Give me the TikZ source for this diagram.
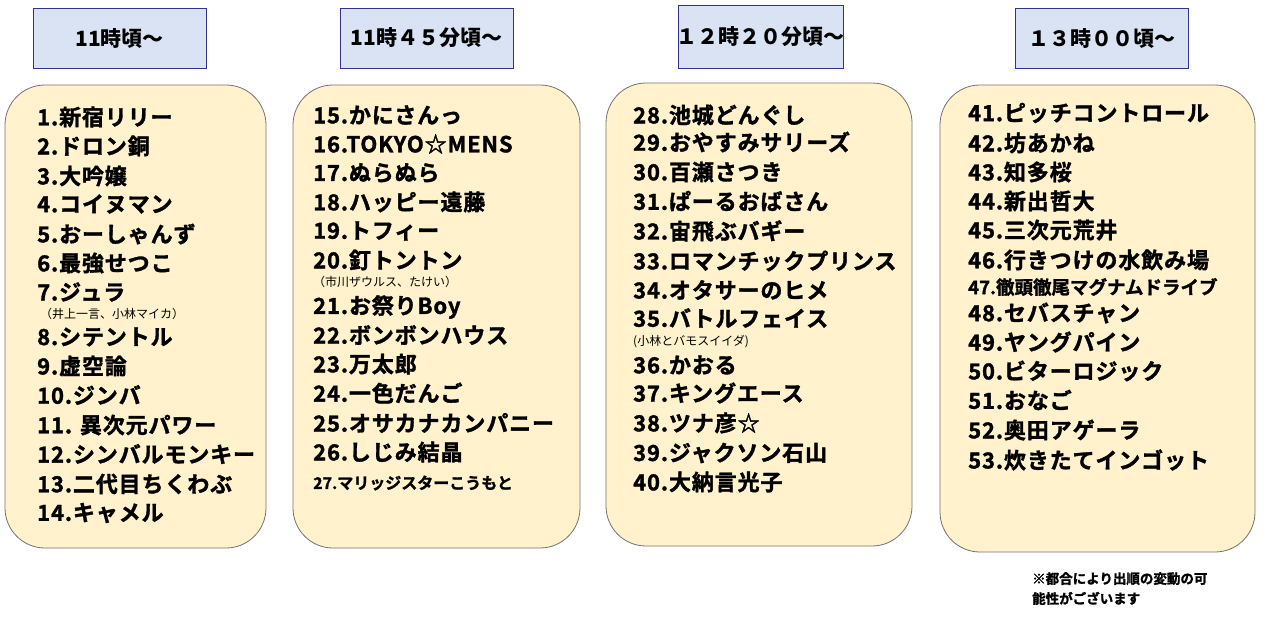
\documentclass[tikz,border=0pt]{standalone}
\usepackage{fontspec}
\setmainfont{Noto Sans CJK JP}[BoldFont={Noto Sans CJK JP Bold},BoldFeatures={FakeBold=1.5}]
\begin{document}
\begin{tikzpicture}[x=1pt,y=-1pt,
 hdr/.style={draw=black!40!blue!60!gray,fill={rgb,255:red,218;green,227;blue,243},line width=0.8pt},
 grp/.style={draw=black!55,fill={rgb,255:red,255;green,242;blue,204},rounded corners=40pt,line width=0.8pt},
 itm/.style={anchor=west,inner sep=0pt,font=\bfseries\fontsize{22}{24}\selectfont\addfontfeatures{LetterSpace=4}},
 sm/.style={anchor=west,inner sep=0pt,font=\fontsize{12}{13}\selectfont},
 ht/.style={font=\bfseries\itshape\fontsize{21}{22}\selectfont}]
\useasboundingbox (0,0) rectangle (1273,621);
\fill[white] (0,0) rectangle (1273,621);
\draw[hdr] (33,8) rectangle (206,68); \node[ht] (h1) at (119.5,38) {11時頃～};
\draw[hdr] (340,8) rectangle (513,68); \node[ht] (h2) at (426.5,38) {11時４５分頃～};
\draw[hdr] (678,5) rectangle (843,68); \node[ht] (h3) at (760.5,37) {１２時２０分頃～};
\draw[hdr] (1015,8) rectangle (1188,68); \node[ht] (h4) at (1101.5,38) {１３時００頃～};
\draw[grp] (5,85) rectangle (266,548);
\draw[grp] (293,85) rectangle (580,548);
\draw[grp] (606,83) rectangle (912,546);
\draw[grp] (940,85) rectangle (1255,552);
\foreach \y/\t [count=\i] in {117/{1.新宿リリー},146/{2.ドロン銅},176/{3.大吟嬢},204/{4.コイヌマン},234/{5.おーしゃんず},263/{6.最強せつこ},292/{7.ジュラ},337/{8.シテントル},366/{9.虚空論},395/{10.ジンバ},425/{11. 異次元パワー},454/{12.シンバルモンキー},484/{13.二代目ちくわぶ},513/{14.キャメル}}
  \node[itm] (a\i) at (37,\y) {\t};
\node[sm] (a7s) at (40,314) {（井上一言、小林マイカ）};
\foreach \y/\t [count=\i] in {115/{15.かにさんっ},144/{16.TOKYO☆MENS},173/{17.ぬらぬら},202/{18.ハッピー遠藤},231/{19.トフィー},260/{20.釘トントン},307/{21.お祭りBoy},335/{22.ボンボンハウス},364/{23.万太郎},393/{24.一色だんご},423/{25.オサカナカンパニー},452/{26.しじみ結晶}}
  \node[itm] (b\i) at (313,\y) {\t};
\node[sm] (b6s) at (313,282) {（市川ザウルス、たけい）};
\node[itm,font=\bfseries\fontsize{16}{18}\selectfont] (b27) at (313,483) {27.マリッジスターこうもと};
\foreach \y/\t [count=\i] in {115/{28.池城どんぐし},142/{29.おやすみサリーズ},172/{30.百瀬さつき},201/{31.ぱーるおばさん},231/{32.宙飛ぶバギー},261/{33.ロマンチックプリンス},290/{34.オタサーのヒメ},318/{35.バトルフェイス},365/{36.かおる},393/{37.キングエース},423/{38.ツナ彦☆},453/{39.ジャクソン石山},482/{40.大納言光子}}
  \node[itm] (c\i) at (633,\y) {\t};
\node[sm] (c8s) at (633,342) {(小林とバモスイイダ)};
\foreach \y/\t [count=\i] in {113/{41.ピッチコントロール},143/{42.坊あかね},172/{43.知多桜},201/{44.新出哲大},230/{45.三次元荒井},260/{46.行きつけの水飲み場},313/{48.セバスチャン},342/{49.ヤングパイン},371/{50.ビターロジック},400/{51.おなご},430/{52.奥田アゲーラ},460/{53.炊きたてインゴット}}
  \node[itm] (d\i) at (968,\y) {\t};
\node[itm,font=\bfseries\fontsize{18.5}{20}\selectfont] (d47) at (968,287) {47.徹頭徹尾マグナムドライブ};
\node[anchor=north west,inner sep=0pt,align=left,font=\bfseries\fontsize{13.5}{20}\selectfont] (note) at (1032,572) {※都合により出順の変動の可\\能性がございます};
\end{tikzpicture}
\end{document}
